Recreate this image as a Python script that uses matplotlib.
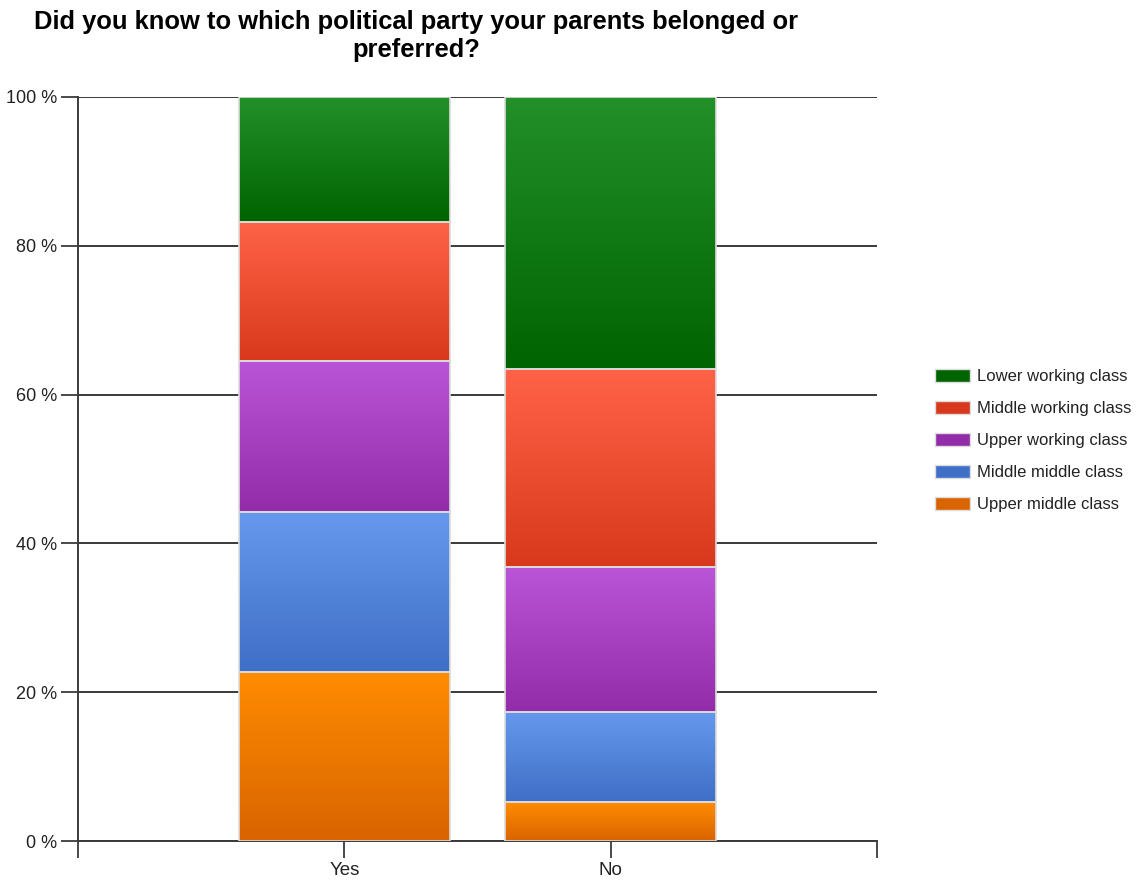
import matplotlib.pyplot as plt
import matplotlib.colors as mcolors
from matplotlib.patches import Patch
import numpy as np

plt.rcParams['font.family'] = ['Liberation Sans', 'DejaVu Sans']

categories = ['Yes', 'No']
classes = ['Upper middle class', 'Middle middle class', 'Upper working class',
           'Middle working class', 'Lower working class']
values = {
    'Upper middle class':   [22.7, 5.2],
    'Middle middle class':  [21.5, 12.1],
    'Upper working class':  [20.3, 19.5],
    'Middle working class': [18.7, 26.6],
    'Lower working class':  [16.8, 36.6],
}
# top colour, bottom colour of each gradient
grad = {
    'Upper middle class':   ('#ff8c00', '#d96400'),
    'Middle middle class':  ('#6699ee', '#3f6fc6'),
    'Upper working class':  ('#bb55d8', '#932ca8'),
    'Middle working class': ('#ff6347', '#d8391c'),
    'Lower working class':  ('#23902a', '#006400'),
}

fig = plt.figure(figsize=(11.43, 8.81), dpi=100, facecolor='w')
ax = fig.add_axes([0.0682, 0.0454, 0.6991, 0.8445])

x = np.arange(1, len(categories) + 1)
bottom = np.zeros(len(categories))
ramp = np.linspace(0, 1, 256).reshape(-1, 1)
for c in classes:
    v = np.array(values[c])
    bars = ax.bar(x, v, 0.79, bottom=bottom, facecolor='none',
                  edgecolor='#dcdcdc', linewidth=1.2, zorder=4)
    cmap = mcolors.LinearSegmentedColormap.from_list(c, [grad[c][1], grad[c][0]])
    for b in bars:
        x0, y0 = b.get_x(), b.get_y()
        im = ax.imshow(ramp, cmap=cmap, origin='lower', aspect='auto',
                       extent=[x0, x0 + b.get_width(), y0, y0 + b.get_height()],
                       zorder=3)
        im.set_clip_path(b)
    bottom += v

ax.set_xlim(0, 3)
ax.set_ylim(0, 100)
ax.set_xticks([0, 1, 2, 3])
ax.set_xticklabels(['', 'Yes', 'No', ''], fontsize=13.5, color='#222222')
ax.set_yticks(range(0, 101, 20))
ax.set_yticklabels([f'{t} %' for t in range(0, 101, 20)], fontsize=13, color='#222222')
ax.tick_params(axis='both', length=12, width=1.3, color='#3a3a3a', pad=3)
ax.grid(axis='y', color='#3a3a3a', linewidth=1.4, zorder=1)
ax.set_axisbelow(True)
for s in ['top', 'right']:
    ax.spines[s].set_visible(False)
for s in ['left', 'bottom']:
    ax.spines[s].set_color('#3a3a3a')
    ax.spines[s].set_linewidth(1.4)

handles = [Patch(facecolor=grad[c][1], edgecolor='#dcdcdc') for c in classes[::-1]]
fig.legend(handles, classes[::-1], loc='center left', bbox_to_anchor=(0.818, 0.5),
           frameon=False, fontsize=12, handlelength=2.1, handleheight=0.82,
           labelspacing=1.0, handletextpad=0.45, borderpad=0, borderaxespad=0,
           labelcolor='#222222')

fig.suptitle('Did you know to which political party your parents belonged or\npreferred?',
             x=0.364, y=0.989, fontsize=18.4, fontweight='bold', linespacing=1.25)

fig.savefig('out.png', dpi=100)
